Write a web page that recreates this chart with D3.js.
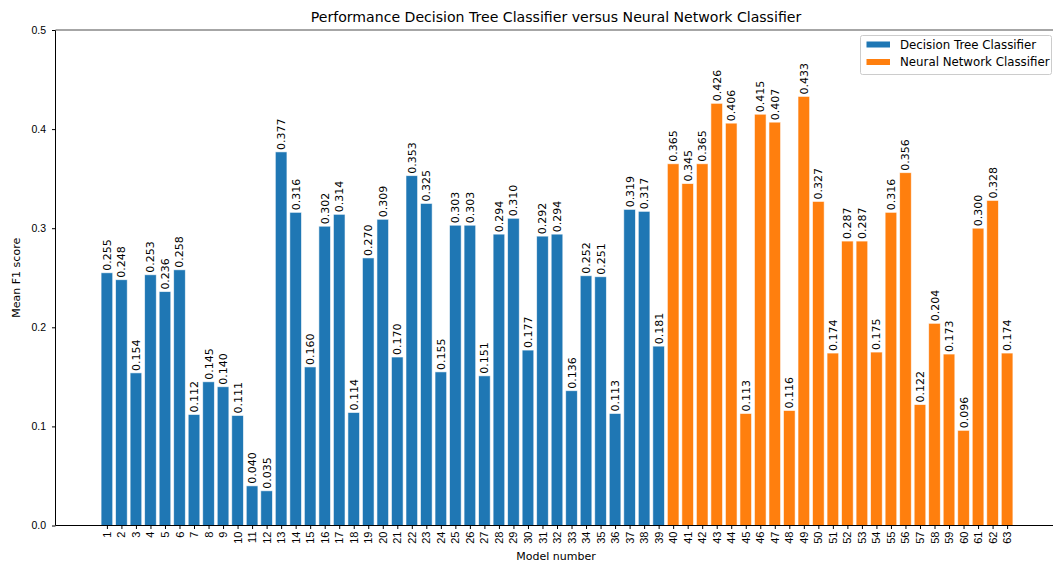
<!DOCTYPE html>
<html>
<head>
<meta charset="utf-8">
<script src="https://cdn.jsdelivr.net/npm/d3@7/dist/d3.min.js"></script>
<style>
  html, body { margin: 0; padding: 0; background: #fff; }
  svg { display: block; font-family: "DejaVu Sans", sans-serif; }
</style>
</head>
<body>
<svg id="chart" width="1053" height="562"></svg>
<script>
// Mean F1 score per model, models 1–39 are decision trees, 40–63 neural networks
const treeModels = d3.range(1, 40);
const treeScores = [0.255, 0.248, 0.154, 0.253, 0.236, 0.258, 0.112, 0.145, 0.140, 0.111,
  0.040, 0.035, 0.377, 0.316, 0.160, 0.302, 0.314, 0.114, 0.270, 0.309,
  0.170, 0.353, 0.325, 0.155, 0.303, 0.303, 0.151, 0.294, 0.310, 0.177,
  0.292, 0.294, 0.136, 0.252, 0.251, 0.113, 0.319, 0.317, 0.181];
const netModels = d3.range(40, 64);
const netScores = [0.365, 0.345, 0.365, 0.426, 0.406, 0.113, 0.415, 0.407, 0.116, 0.433,
  0.327, 0.174, 0.287, 0.287, 0.175, 0.316, 0.356, 0.122, 0.204, 0.173,
  0.096, 0.300, 0.328, 0.174];
const seriesNames = ["Decision Tree Classifier", "Neural Network Classifier"];
const seriesColors = ["#1f77b4", "#ff7f0e"];
const yTicks = [0.0, 0.1, 0.2, 0.3, 0.4, 0.5];

const series = [
  { name: seriesNames[0], color: seriesColors[0], data: treeModels.map((m, i) => ({ m, v: treeScores[i] })) },
  { name: seriesNames[1], color: seriesColors[1], data: netModels.map((m, i) => ({ m, v: netScores[i] })) }
];

const svg = d3.select("#chart");
const plotLeft = 55.5, plotTop = 30, plotBottom = 525.5, plotRight = 1058.5;

// linear x axis with 5% margins around the bar extents
const x = d3.scaleLinear().domain([-2.54, 66.54]).range([plotLeft, plotRight]);
const y = d3.scaleLinear().domain([0, 0.5]).range([plotBottom, plotTop]);
const barW = x(0.8) - x(0);

// bars and their value labels
series.forEach(s => {
  const g = svg.append("g");
  g.selectAll("rect").data(s.data).enter().append("rect")
    .attr("x", d => x(d.m) - barW / 2)
    .attr("width", barW)
    .attr("y", d => y(d.v))
    .attr("height", d => y(0) - y(d.v))
    .attr("fill", s.color)
    .attr("stroke", "#ffffff")
    .attr("stroke-opacity", 0.7)
    .attr("stroke-width", 0.8);
  g.selectAll("text").data(s.data).enter().append("text")
    .attr("transform", d => `translate(${x(d.m) + 4},${y(d.v) - 2}) rotate(-90)`)
    .attr("font-size", 11)
    .attr("fill", "#000")
    .text(d => d3.format(".3f")(d.v));
});

// axes
const xAxis = d3.axisBottom(x).tickValues(d3.range(1, 64)).tickFormat(d3.format("d")).tickSizeOuter(0).tickSize(3.5);
const gx = svg.append("g").attr("transform", `translate(0,${plotBottom})`).call(xAxis);
gx.select(".domain").remove();
gx.selectAll("text")
  .attr("font-size", 11)
  .attr("fill", "#000")
  .attr("transform", "rotate(-90)")
  .attr("text-anchor", "end")
  .attr("dx", "-6")
  .attr("dy", "0.32em")
  .attr("x", 0)
  .attr("y", 0);

const yAxis = d3.axisLeft(y).tickValues(yTicks).tickFormat(d3.format(".1f")).tickSizeOuter(0).tickSize(3.5);
const gy = svg.append("g").attr("transform", `translate(${plotLeft},0)`).call(yAxis);
gy.select(".domain").remove();
gy.selectAll("text").attr("font-size", 10.5).attr("fill", "#000").attr("x", -9.5);

// spines
svg.append("line").attr("x1", plotLeft).attr("x2", plotLeft).attr("y1", plotTop).attr("y2", plotBottom).attr("stroke", "#000").attr("stroke-width", 1);
svg.append("line").attr("x1", plotLeft).attr("x2", plotRight).attr("y1", plotBottom).attr("y2", plotBottom).attr("stroke", "#000").attr("stroke-width", 1);
svg.append("line").attr("x1", plotLeft).attr("x2", plotRight).attr("y1", plotTop).attr("y2", plotTop).attr("stroke", "#888").attr("stroke-width", 1.5);

// titles
svg.append("text").attr("x", 556).attr("y", 22).attr("text-anchor", "middle").attr("font-size", 14.1).attr("fill", "#000")
  .text("Performance Decision Tree Classifier versus Neural Network Classifier");
svg.append("text").attr("x", 556).attr("y", 559.5).attr("text-anchor", "middle").attr("font-size", 11).attr("fill", "#000")
  .text("Model number");
svg.append("text").attr("transform", `translate(20,${(plotTop + plotBottom) / 2}) rotate(-90)`).attr("text-anchor", "middle").attr("font-size", 11).attr("fill", "#000")
  .text("Mean F1 score");

// legend
const lg = svg.append("g").attr("transform", "translate(860,35)");
lg.append("rect").attr("x", 0.5).attr("y", 0.5).attr("width", 191).attr("height", 39).attr("rx", 2)
  .attr("fill", "#fff").attr("fill-opacity", 0.8).attr("stroke", "#ccc").attr("stroke-width", 1);
seriesNames.forEach((n, i) => {
  lg.append("rect").attr("x", 6.5).attr("y", 6.5 + i * 17.5).attr("width", 23.5).attr("height", 6).attr("fill", seriesColors[i]);
  lg.append("text").attr("x", 40).attr("y", 13.5 + i * 17.5).attr("font-size", 11.8).attr("fill", "#000").text(n);
});
</script>
</body>
</html>
